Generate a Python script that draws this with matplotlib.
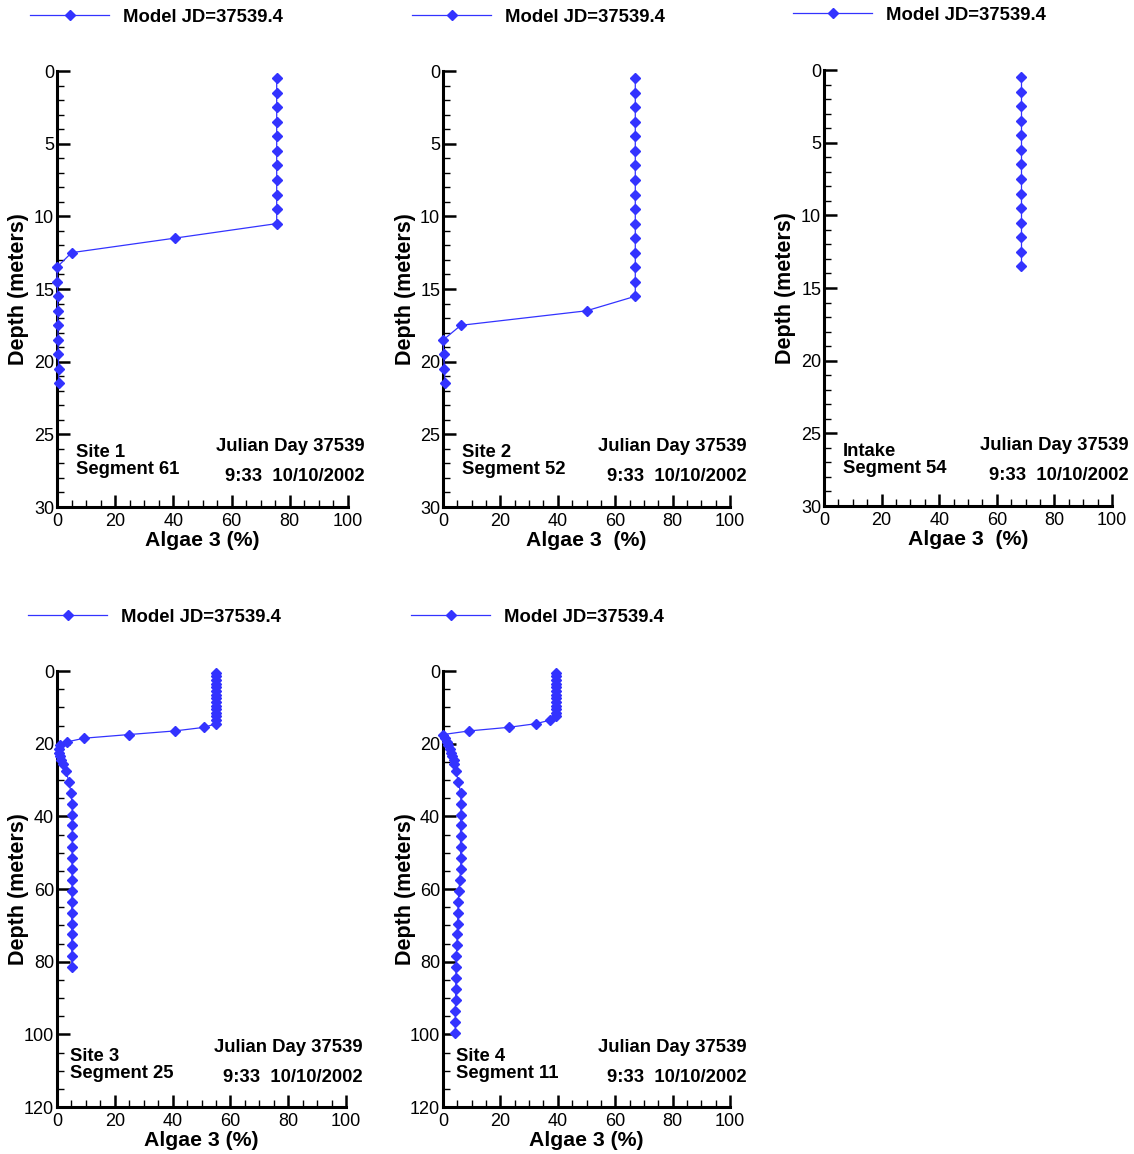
import matplotlib
matplotlib.use('Agg')
import matplotlib.pyplot as plt
from matplotlib.ticker import MultipleLocator
from matplotlib.lines import Line2D

plt.rcParams['font.family'] = ['Liberation Sans', 'DejaVu Sans']

W, H = 1134, 1154
BLUE = '#3333ff'

# ---- data (depth in m, algae 3 in %) ----
site1_depth = [0.5, 1.5, 2.5, 3.5, 4.5, 5.5, 6.5, 7.5, 8.5, 9.5, 10.5,
               11.5, 12.5, 13.5, 14.5, 15.5, 16.5, 17.5, 18.5, 19.5, 20.5, 21.5]
site1_algae = [75.5, 75.5, 75.5, 75.5, 75.5, 75.5, 75.5, 75.5, 75.5, 75.5, 75.5,
               40.5, 5.0, 0.0, 0.1, 0.2, 0.25, 0.3, 0.35, 0.45, 0.55, 0.65]

site2_depth = [0.5, 1.5, 2.5, 3.5, 4.5, 5.5, 6.5, 7.5, 8.5, 9.5, 10.5,
               11.5, 12.5, 13.5, 14.5, 15.5, 16.5, 17.5, 18.5, 19.5, 20.5, 21.5]
site2_algae = [67.0, 67.0, 67.0, 67.0, 67.0, 67.0, 67.0, 67.0, 67.0, 67.0, 67.0,
               67.0, 67.0, 67.0, 67.0, 67.0, 50.0, 6.2, 0.1, 0.2, 0.5, 0.7]

intake_depth = [0.5, 1.5, 2.5, 3.5, 4.5, 5.5, 6.5, 7.5, 8.5, 9.5, 10.5,
                11.5, 12.5, 13.5]
intake_algae = [68.5, 68.5, 68.5, 68.5, 68.5, 68.5, 68.5, 68.5, 68.5, 68.5, 68.5,
                68.5, 68.5, 68.5]

site3_depth = [0.5, 1.5, 2.5, 3.5, 4.5, 5.5, 6.5, 7.5, 8.5, 9.5, 10.5, 11.5, 12.5,
               13.5, 14.5, 15.5, 16.5, 17.5, 18.5, 19.5, 20.5, 21.5, 22.5, 23.5,
               24.5, 25.5, 27.5, 30.5, 33.5, 36.5, 39.5, 42.5, 45.5, 48.5, 51.5,
               54.5, 57.5, 60.5, 63.5, 66.5, 69.5, 72.5, 75.5, 78.5, 81.5]
site3_algae = [55.0, 55.0, 55.0, 55.0, 55.0, 55.0, 55.0, 55.0, 55.0, 55.0, 55.0, 55.0, 55.0,
               55.0, 55.0, 51.0, 40.7, 24.8, 9.3, 3.6, 1.2, 0.8, 0.8, 1.0,
               1.4, 2.1, 3.0, 4.2, 4.8, 5.2, 5.3, 5.3, 5.3, 5.3, 5.2,
               5.2, 5.2, 5.2, 5.1, 5.1, 5.1, 5.1, 5.1, 5.1, 5.1]

site4_depth = [0.5, 1.5, 2.5, 3.5, 4.5, 5.5, 6.5, 7.5, 8.5, 9.5, 10.5, 11.5, 12.5,
               13.5, 14.5, 15.5, 16.5, 17.5, 18.5, 19.5, 20.5, 21.5, 22.5, 23.5,
               24.5, 25.5, 27.5, 30.5, 33.5, 36.5, 39.5, 42.5, 45.5, 48.5, 51.5,
               54.5, 57.5, 60.5, 63.5, 66.5, 69.5, 72.5, 75.5, 78.5, 81.5, 84.5,
               87.5, 90.5, 93.5, 96.5, 99.5]
site4_algae = [39.2, 39.2, 39.2, 39.2, 39.2, 39.2, 39.2, 39.2, 39.2, 39.2, 39.2, 39.2, 39.2,
               37.4, 32.4, 22.9, 9.0, 0.0, 0.7, 1.3, 1.8, 2.3, 2.8, 3.3,
               3.7, 4.0, 4.4, 5.4, 6.1, 6.3, 6.2, 6.1, 6.1, 6.1, 6.2,
               6.2, 5.8, 5.6, 5.3, 5.2, 5.1, 5.0, 4.8, 4.7, 4.5, 4.5,
               4.4, 4.4, 4.3, 4.3, 4.3]

panels = [
    # depth, algae, site text, xlabel, ymax, y major, y minor, axes px (left, top, right, bottom), legend px
    (site1_depth, site1_algae, "Site 1\nSegment 61", "Algae 3 (%)", 30, 5, 1, (57, 71, 348, 507), (30, 17)),
    (site2_depth, site2_algae, "Site 2\nSegment 52", "Algae 3  (%)", 30, 5, 1, (443, 71, 730, 507), (412, 17)),
    (intake_depth, intake_algae, "Intake\nSegment 54", "Algae 3  (%)", 30, 5, 1, (824, 70, 1112, 506), (793, 15)),
    (site3_depth, site3_algae, "Site 3\nSegment 25", "Algae 3 (%)", 120, 20, 5, (57, 671, 346, 1107), (28, 617)),
    (site4_depth, site4_algae, "Site 4\nSegment 11", "Algae 3 (%)", 120, 20, 5, (443, 671, 730, 1107), (411, 617)),
]


def fx(px):
    return px / W


def fy(py):
    return 1 - py / H


fig = plt.figure(figsize=(W / 100, H / 100), dpi=100)

for depth, algae, site, xlab, ymax, ymaj, ymin, (l, t, r, b), (lx, ly) in panels:
    ax = fig.add_axes([fx(l), fy(b), (r - l) / W, (b - t) / H])
    ax.plot(algae, depth, color=BLUE, lw=0.9, marker='D', ms=5, mec=BLUE, mfc=BLUE,
            clip_on=False, zorder=3)
    ax.set_xlim(0, 100)
    ax.set_ylim(ymax, 0)

    for s in ['top', 'right']:
        ax.spines[s].set_visible(False)
    for s in ['left', 'bottom']:
        ax.spines[s].set_linewidth(2.2)

    ax.xaxis.set_major_locator(MultipleLocator(20))
    ax.xaxis.set_minor_locator(MultipleLocator(5))
    ax.yaxis.set_major_locator(MultipleLocator(ymaj))
    ax.yaxis.set_minor_locator(MultipleLocator(ymin))
    ax.tick_params(which='major', direction='in', length=9, width=1.8, labelsize=13, pad=4)
    ax.tick_params(which='minor', direction='in', length=5, width=1.0)
    ax.tick_params(axis='y', which='major', pad=2)

    ax.set_xlabel(xlab, fontsize=15.3, fontweight='bold')
    ax.xaxis.set_label_coords(fx((l + r) / 2), fy(b + 33), transform=fig.transFigure)
    ax.xaxis.label.set_va('center')
    ax.set_ylabel("Depth (meters)", fontsize=15.5, fontweight='bold')
    ax.yaxis.set_label_coords(fx(l - 38), fy((t + b) / 2), transform=fig.transFigure)
    ax.yaxis.label.set_va('center')

    top = ymax == 30
    site_dx = 19 if top else 13
    fig.text(fx(r + 17), fy(b - (61 if top else 60)), "Julian Day 37539", fontsize=13.3,
             fontweight='bold', ha='right', va='center')
    fig.text(fx(r + 17), fy(b - (31 if top else 30)), "9:33  10/10/2002", fontsize=13.3,
             fontweight='bold', ha='right', va='center')
    fig.text(fx(l + site_dx), fy(b - (46 if top else 42)), site, fontsize=13.3,
             fontweight='bold', ha='left', va='center', linespacing=0.98)

    handle = Line2D([], [], color=BLUE, lw=0.9, marker='D', ms=5, mec=BLUE, mfc=BLUE)
    fig.legend([handle], ["Model JD=37539.4"], loc='center left',
               bbox_to_anchor=(fx(lx), fy(ly)), bbox_transform=fig.transFigure,
               frameon=False, borderpad=0, borderaxespad=0, handlelength=4.3,
               handletextpad=0.75, prop={'weight': 'bold', 'size': 13.3})

fig.savefig("out.png", dpi=100)
